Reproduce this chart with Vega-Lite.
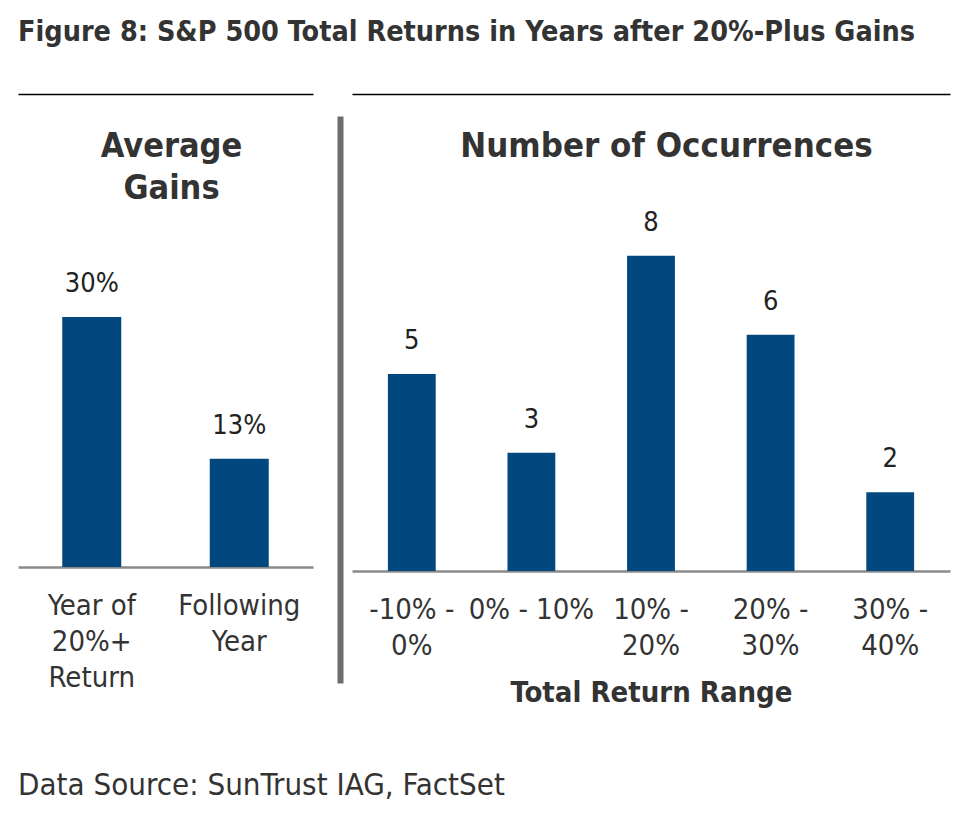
{
  "$schema": "https://vega.github.io/schema/vega-lite/v6.json",
  "padding": {"left": 18, "top": 17, "right": 6, "bottom": 10},
  "background": "white",
  "title": {
    "text": "Figure 8: S&P 500 Total Returns in Years after 20%-Plus Gains",
    "anchor": "start",
    "font": "DejaVu Sans Condensed",
    "fontSize": 28.5,
    "fontWeight": "bold",
    "color": "#333333",
    "offset": 48
  },
  "vconcat": [
    {
      "title": {
        "text": "Data Source: SunTrust IAG, FactSet",
        "orient": "bottom",
        "anchor": "start",
        "font": "DejaVu Sans Condensed",
        "fontSize": 31,
        "fontWeight": "normal",
        "color": "#333333",
        "offset": 64
      },
      "spacing": 27,
      "hconcat": [
        {
          "width": 295,
          "height": 451,
          "data": {"values": [
            {"period": "Year of 20%+ Return", "gain": 0.30},
            {"period": "Following Year", "gain": 0.13}
          ]},
          "encoding": {
            "y": {"field": "gain", "type": "quantitative", "scale": {"domain": [0, 0.5412], "nice": false}, "axis": null}
          },
          "layer": [
            {
              "mark": {"type": "bar", "color": "#02487f"},
              "encoding": {
                "x": {
                  "field": "period", "type": "nominal", "sort": null,
                  "scale": {"paddingInner": 0.6, "paddingOuter": 0.3},
                  "axis": {
                    "orient": "bottom", "title": null, "domain": true, "domainColor": "#8a8a8a", "domainWidth": 2.5,
                    "ticks": false, "labelAngle": 0, "labelFont": "DejaVu Sans Condensed", "labelFontSize": 29, "labelColor": "#333333",
                    "labelPadding": 24, "labelLineHeight": 36, "labelOverlap": false, "labelBaseline": "top",
                    "labelExpr": "datum.value == 'Year of 20%+ Return' ? ['Year of', '20%+', 'Return'] : ['Following', 'Year']"
                  }
                }
              }
            },
            {
              "mark": {"type": "text", "font": "DejaVu Sans Condensed", "fontSize": 27, "color": "#222222", "baseline": "alphabetic", "dy": -25},
              "encoding": {
                "x": {
                  "field": "period", "type": "nominal", "sort": null,
                  "axis": {
                    "orient": "top", "offset": 22, "domain": true, "domainColor": "#000000", "domainWidth": 1.5,
                    "ticks": false, "labels": false, "grid": false,
                    "title": ["Average", "Gains"], "titleFont": "DejaVu Sans Condensed", "titleFontSize": 34, "titleFontWeight": "bold",
                    "titleColor": "#333333", "titleX": 153, "titleY": 35, "titleAlign": "center", "titleBaseline": "top",
                    "titleLineHeight": 42, "titleAngle": 0
                  }
                },
                "text": {"field": "gain", "type": "quantitative", "format": ".0%"}
              }
            }
          ],
          "resolve": {"axis": {"x": "independent"}}
        },
        {
          "width": 598,
          "height": 567,
          "data": {"values": [
            {"range": "-10% - 0%", "count": 5},
            {"range": "0% - 10%", "count": 3},
            {"range": "10% - 20%", "count": 8},
            {"range": "20% - 30%", "count": 6},
            {"range": "30% - 40%", "count": 2}
          ]},
          "layer": [
            {
              "mark": {"type": "bar", "color": "#02487f"},
              "encoding": {
                "x": {
                  "field": "range", "type": "nominal", "sort": null,
                  "scale": {"paddingInner": 0.6, "paddingOuter": 0.3},
                  "axis": {
                    "orient": "bottom", "offset": -112, "domain": true, "domainColor": "#8a8a8a", "domainWidth": 2.5,
                    "ticks": false, "labelAngle": 0, "labelFont": "DejaVu Sans Condensed", "labelFontSize": 29, "labelColor": "#333333",
                    "labelPadding": 24, "labelLineHeight": 36, "labelOverlap": false, "labelBaseline": "top",
                    "labelExpr": "datum.value == '0% - 10%' ? datum.value : [split(datum.value, ' - ')[0] + ' -', split(datum.value, ' - ')[1]]",
                    "title": "Total Return Range", "titleFont": "DejaVu Sans Condensed", "titleFontSize": 29, "titleFontWeight": "bold",
                    "titleColor": "#333333", "titlePadding": 18
                  }
                },
                "y": {
                  "field": "count", "type": "quantitative",
                  "scale": {"domain": [-2.843, 11.55], "nice": false, "zero": false},
                  "axis": {
                    "orient": "left", "offset": 12, "domain": true, "domainColor": "#6e6e6e", "domainWidth": 6,
                    "ticks": false, "labels": false, "grid": false, "title": null
                  }
                }
              }
            },
            {
              "mark": {"type": "text", "font": "DejaVu Sans Condensed", "fontSize": 27, "color": "#222222", "baseline": "alphabetic", "dy": -25},
              "encoding": {
                "x": {
                  "field": "range", "type": "nominal", "sort": null,
                  "axis": {
                    "orient": "top", "offset": 22, "domain": true, "domainColor": "#000000", "domainWidth": 1.5,
                    "ticks": false, "labels": false, "grid": false,
                    "title": "Number of Occurrences", "titleFont": "DejaVu Sans Condensed", "titleFontSize": 34.5, "titleFontWeight": "bold",
                    "titleColor": "#333333", "titleX": 314, "titleY": 35, "titleAlign": "center", "titleBaseline": "top",
                    "titleAngle": 0
                  }
                },
                "y": {"field": "count", "type": "quantitative", "axis": null},
                "text": {"field": "count", "type": "quantitative", "format": "d"}
              }
            }
          ],
          "resolve": {"axis": {"x": "independent", "y": "independent"}}
        }
      ]
    }
  ],
  "config": {"view": {"stroke": null}}
}
